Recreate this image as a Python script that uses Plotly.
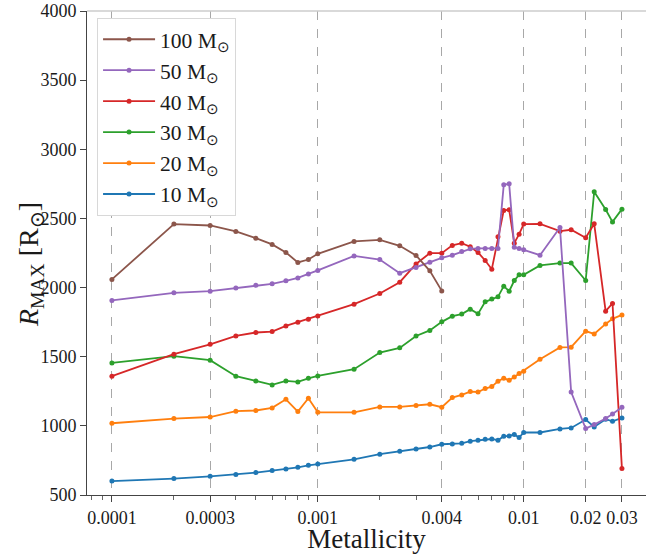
import plotly.graph_objects as go
import numpy as np

Z = [0.0001, 0.0002, 0.0003, 0.0004, 0.0005, 0.0006, 0.0007, 0.0008, 0.0009, 0.001,
     0.0015, 0.002, 0.0025, 0.003, 0.0035, 0.004,
     0.0045, 0.005, 0.0055, 0.006, 0.0065, 0.007, 0.0075, 0.008, 0.0085, 0.009, 0.0095, 0.01,
     0.012, 0.015, 0.017, 0.02, 0.022, 0.025, 0.027, 0.03]

r10 = [601, 619, 635, 648, 662, 677, 688, 700, 715, 724, 758, 795, 816, 833, 847, 867,
       869, 874, 889, 896, 903, 905, 896, 925, 927, 937, 915, 952,
       952, 978, 985, 1046, 992, 1048, 1033, 1057]
r20 = [1019, 1053, 1064, 1106, 1111, 1130, 1192, 1103, 1200, 1098, 1098, 1137, 1137, 1147, 1156, 1135,
       1205, 1224, 1248, 1245, 1270, 1284, 1323, 1344, 1330, 1354, 1378, 1395,
       1482, 1567, 1569, 1685, 1665, 1737, 1774, 1802]
r30 = [1455, 1504, 1475, 1359, 1325, 1296, 1325, 1318, 1344, 1361, 1410, 1530, 1564, 1650, 1690, 1752,
       1793, 1808, 1844, 1810, 1897, 1918, 1933, 2010, 1974, 2051, 2092, 2092,
       2160, 2177, 2177, 2051, 2693, 2565, 2475, 2567]
r40 = [1359, 1518, 1590, 1650, 1675, 1682, 1723, 1750, 1771, 1795, 1880, 1957, 2039, 2171, 2249, 2249,
       2305, 2321, 2295, 2254, 2196, 2133, 2367, 2558, 2562, 2321, 2386, 2459,
       2461, 2408, 2418, 2360, 2461, 1829, 1885, 691]
r50 = [1907, 1962, 1974, 1996, 2017, 2027, 2049, 2070, 2099, 2124, 2229, 2203, 2104, 2145, 2184, 2215,
       2234, 2261, 2280, 2283, 2283, 2283, 2283, 2743, 2750, 2292, 2283, 2273,
       2234, 2435, 1245, 980, 1009, 1053, 1086, 1135]
Z100 = Z[:16]
r100 = [2059, 2459, 2449, 2406, 2357, 2312, 2254, 2182, 2203, 2244, 2334, 2345, 2302, 2232, 2121, 1976]

series = [
    ("10 M<sub>⊙</sub>", Z, r10, "#1f77b4"),
    ("20 M<sub>⊙</sub>", Z, r20, "#ff7f0e"),
    ("30 M<sub>⊙</sub>", Z, r30, "#2ca02c"),
    ("40 M<sub>⊙</sub>", Z, r40, "#d62728"),
    ("50 M<sub>⊙</sub>", Z, r50, "#9467bd"),
    ("100 M<sub>⊙</sub>", Z100, r100, "#8c564b"),
]

xtick_vals = [0.0001, 0.0003, 0.001, 0.004, 0.01, 0.02, 0.03]
xtick_text = ["0.0001", "0.0003", "0.001", "0.004", "0.01", "0.02", "0.03"]
minor_vals = [0.00008, 0.00009, 0.0002, 0.0004, 0.0005, 0.0006, 0.0007, 0.0008, 0.0009,
              0.002, 0.003, 0.005, 0.006, 0.007, 0.008, 0.009, 0.04]
ytick_vals = [500, 1000, 1500, 2000, 2500, 3000, 3500, 4000]

FONT = "Liberation Serif"
TXT = "#1a1a1a"

fig = go.Figure()
for name, xs, ys, col in series:
    fig.add_trace(go.Scatter(x=xs, y=ys, name=name, mode="lines+markers",
                             line=dict(color=col, width=1.8),
                             marker=dict(color=col, size=5)))

fig.update_layout(
    width=646, height=554,
    margin=dict(l=87, r=0, t=11, b=59),
    plot_bgcolor="white", paper_bgcolor="white",
    font=dict(family=FONT, color=TXT, size=18),
    showlegend=True,
    legend=dict(x=0.018, y=0.986, xanchor="left", yanchor="top",
                traceorder="reversed", bgcolor="white",
                bordercolor="#d8d8d8", borderwidth=1,
                font=dict(family=FONT, size=21.5, color=TXT),
                itemwidth=52),
    xaxis=dict(type="log", range=[np.log10(0.0001) - 0.121, np.log10(0.0001) + 2.594],
               tickvals=xtick_vals, ticktext=xtick_text,
               ticks="outside", ticklen=6, tickwidth=1, tickcolor="#444444",
               showgrid=True, gridcolor="#a8a8a8", griddash="dash", gridwidth=1,
               showline=True, linecolor="#444444", linewidth=1,
               zeroline=False,
               tickfont=dict(size=18, family=FONT, color=TXT),
               title=dict(text="Metallicity", font=dict(size=27, family=FONT, color=TXT),
                          standoff=4),
               minor=dict(tickvals=minor_vals, ticks="outside", ticklen=4,
                          tickcolor="#666666", showgrid=False)),
    yaxis=dict(range=[500, 4000], tickvals=ytick_vals,
               ticks="outside", ticklen=6, tickwidth=1, tickcolor="#444444",
               showgrid=False, showline=True, linecolor="#444444", linewidth=1,
               zeroline=False,
               tickfont=dict(size=18, family=FONT, color=TXT)),
    annotations=[dict(text="<i>R</i><sub>MAX</sub> [R<sub>⊙</sub>]",
                      xref="paper", yref="paper", x=(30 - 87) / 559, y=0.475,
                      xanchor="center", yanchor="middle", textangle=-90,
                      showarrow=False,
                      font=dict(size=28, family=FONT, color=TXT))],
    shapes=[dict(type="line", xref="paper", yref="paper", x0=0, x1=1, y0=1, y1=1,
                 line=dict(color="#cccccc", width=1.5))],
)

fig.write_html("out.html")
